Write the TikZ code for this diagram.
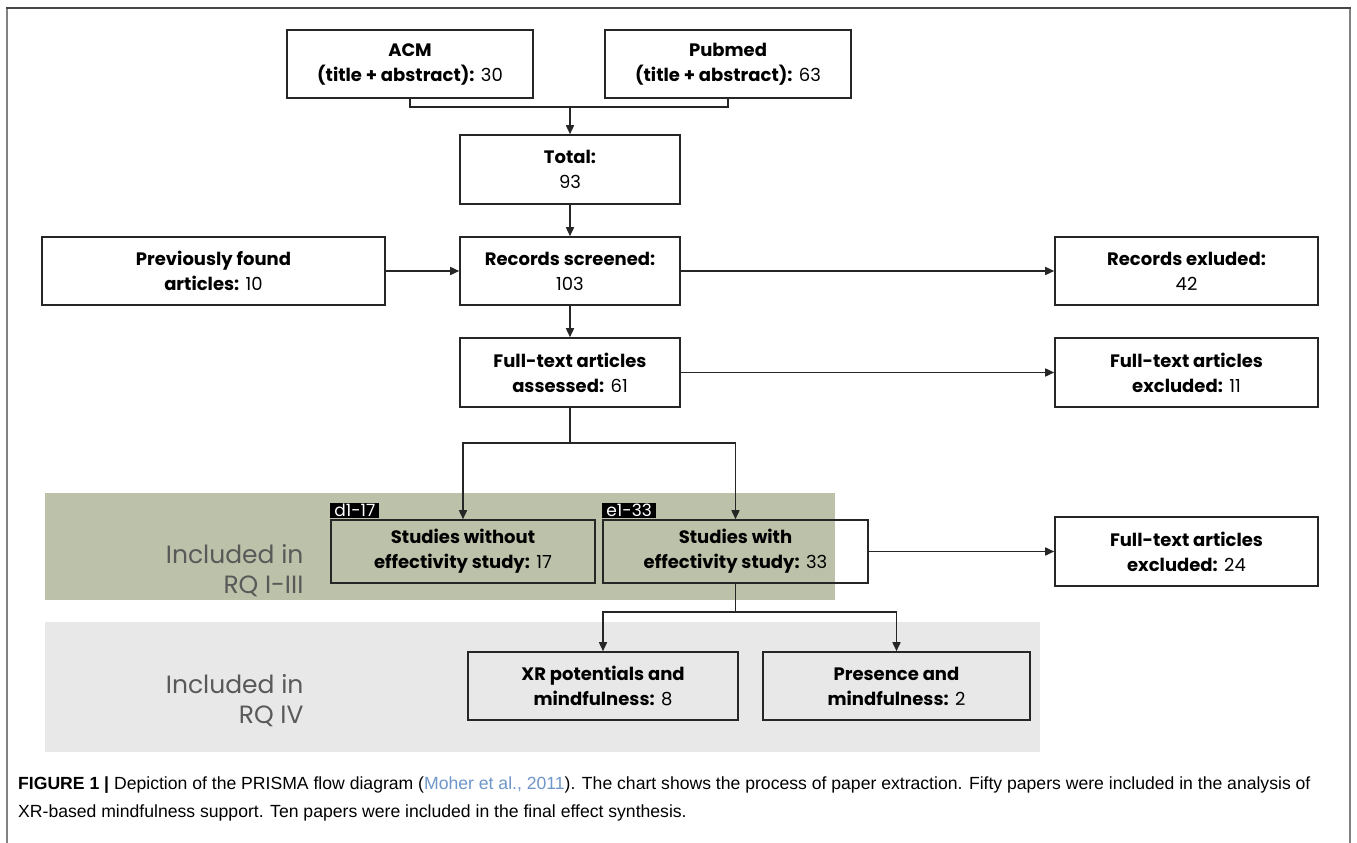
\documentclass[tikz,border=0pt]{standalone}
\usepackage{fontspec}
\setmainfont{Poppins}
\newfontfamily\capfont{Liberation Sans}
\usetikzlibrary{arrows.meta}
\definecolor{bandgreen}{RGB}{188,193,169}
\definecolor{bandgray}{RGB}{232,232,232}
\definecolor{citeblue}{RGB}{110,150,200}
\definecolor{framedark}{RGB}{70,70,70}
\definecolor{framelight}{RGB}{130,130,130}
\tikzset{
  box/.style={draw=black!85, line width=1.6pt, align=center, inner sep=0pt,
    font=\fontsize{18}{25}\selectfont},
  arr/.style={-{Triangle[length=9pt,width=8pt]}, line width=1.6pt, draw=black!85},
  ln/.style={line width=1.6pt, draw=black!85},
  tag/.style={fill=black, text=white, font=\fontsize{17}{17}\selectfont,
    inner xsep=4pt, inner ysep=0.5pt, anchor=south west, minimum height=15pt},
  bandlabel/.style={align=right, anchor=east, text=black!65,
    font=\fontsize{25}{30}\selectfont}
}
\begin{document}
\begin{tikzpicture}[x=1pt,y=-1pt]
\fill[white] (0,0) rectangle (1357,843);
\useasboundingbox (0,0) rectangle (1357,843);
% frame
\draw[framelight, line width=2pt] (7,843) -- (7,8);
\draw[framelight, line width=2pt] (1350,8) -- (1350,843);
\draw[framedark, line width=2pt] (6,8) -- (1351,8);
% bands
\fill[bandgreen] (45,493) rectangle (835,600);
\fill[bandgray] (45,622) rectangle (1040,752);
\node[bandlabel] (lab1) at (307,571) {Included in\\RQ I-III};
\node[bandlabel] (lab2) at (307,701) {Included in\\RQ IV};
% boxes
\node[box, fill=white, minimum width=246pt, minimum height=68pt] (acm) at (410,64) {\textbf{ACM}\\\textbf{(title + abstract):} 30};
\node[box, fill=white, minimum width=246pt, minimum height=68pt] (pub) at (728,64) {\textbf{Pubmed}\\\textbf{(title + abstract):} 63};
\node[box, fill=white, minimum width=220pt, minimum height=69pt] (total) at (570,169.5) {\textbf{Total:}\\93};
\node[box, fill=white, minimum width=220pt, minimum height=68pt] (rs) at (570,271) {\textbf{Records screened:}\\103};
\node[box, fill=white, minimum width=343pt, minimum height=68pt] (prev) at (213.5,271) {\textbf{Previously found}\\\textbf{articles:} 10};
\node[box, fill=white, minimum width=263pt, minimum height=68pt] (re) at (1186.5,271) {\textbf{Records exluded:}\\42};
\node[box, fill=white, minimum width=220pt, minimum height=69pt] (fta) at (570,372.5) {\textbf{Full-text articles}\\\textbf{assessed:} 61};
\node[box, fill=white, minimum width=263pt, minimum height=69pt] (fte1) at (1186.5,372.5) {\textbf{Full-text articles}\\\textbf{excluded:} 11};
\node[box, minimum width=264pt, minimum height=63pt] (d1) at (463,551.5) {\textbf{Studies without}\\\textbf{effectivity study:} 17};
\node[box, minimum width=265pt, minimum height=63pt] (e1) at (735.5,551.5) {\textbf{Studies with}\\\textbf{effectivity study:} 33};
\node[box, fill=white, minimum width=263pt, minimum height=69pt] (fte2) at (1186.5,551.5) {\textbf{Full-text articles}\\\textbf{excluded:} 24};
\node[box, minimum width=270pt, minimum height=68pt] (xr) at (603,686) {\textbf{XR potentials and}\\\textbf{mindfulness:} 8};
\node[box, minimum width=267pt, minimum height=68pt] (pres) at (896.5,686) {\textbf{Presence and}\\\textbf{mindfulness:} 2};
% tags
\node[tag] (t1) at ([yshift=1pt]d1.north west) {d1-17};
\node[tag] (t2) at ([yshift=1pt]e1.north west) {e1-33};
% connectors
\coordinate (j1) at (570,107);
\draw[ln] (acm.south) |- (j1) -| (pub.south);
\draw[arr] (j1) -- (total.north);
\draw[arr] (total.south) -- (rs.north);
\draw[arr] (prev.east) -- (rs.west);
\draw[arr] (rs.east) -- (re.west);
\draw[arr] (rs.south) -- (fta.north);
\draw[arr] (fta.east) -- (fte1.west);
\coordinate (j2) at (570,443);
\draw[ln] (fta.south) -- (j2);
\draw[arr] (j2) -| (d1.north);
\draw[arr] (j2) -| (e1.north);
\draw[arr] (e1.east) -- (fte2.west);
\coordinate (j3) at (735.5,612);
\draw[ln] (e1.south) -- (j3);
\draw[arr] (j3) -| (xr.north);
\draw[arr] (j3) -| (pres.north);
% caption
\node[anchor=north west, align=left, inner sep=0pt, font=\capfont\fontsize{17.6}{28}\selectfont] (cap) at (18,777)
{\textbf{FIGURE 1 |} Depiction of the PRISMA flow diagram ({\color{citeblue}Moher et al., 2011}). The chart shows the process of paper extraction. Fifty papers were included in the analysis of\\XR-based mindfulness support. Ten papers were included in the final effect synthesis.};
\end{tikzpicture}
\end{document}
